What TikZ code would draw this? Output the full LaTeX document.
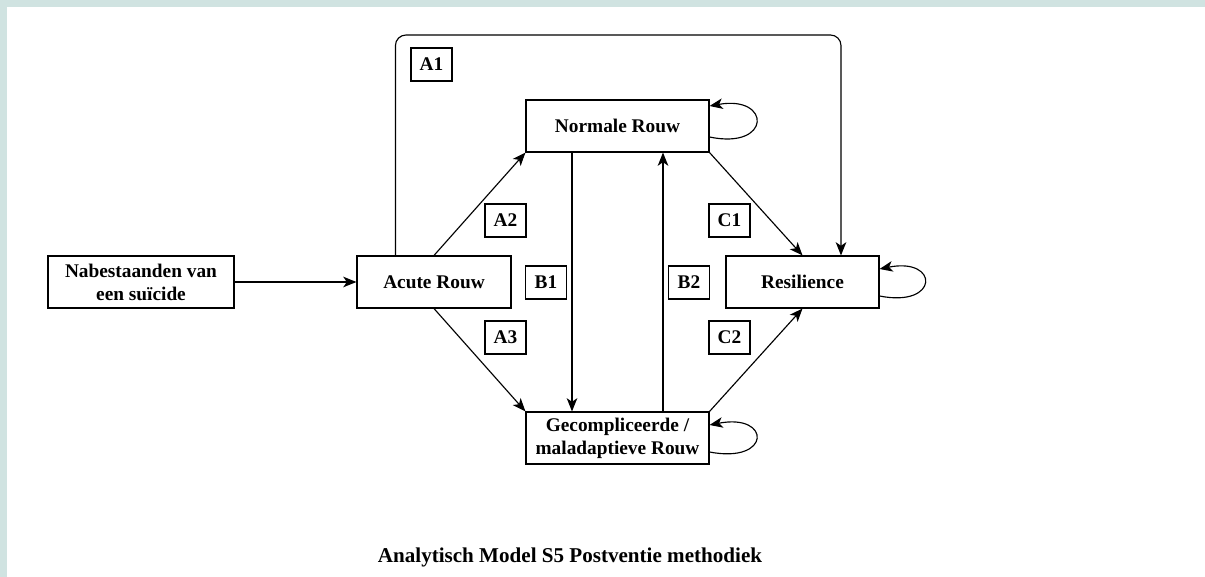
\documentclass[tikz,border=0pt]{standalone}
\usepackage{fontspec}
\setmainfont{Liberation Serif}
\usepackage{xcolor}
\usetikzlibrary{arrows.meta}
\definecolor{rand}{RGB}{208,227,225}

\begin{document}
\begin{tikzpicture}[x=0.02cm, y=-0.02cm,
    blok/.style={draw, line width=0.65pt, minimum height=1.04cm, inner sep=0pt,
      align=center, font=\fontsize{11}{13}\selectfont\bfseries},
    tag/.style={draw, line width=0.65pt, minimum width=0.82cm, minimum height=0.66cm,
      inner sep=0pt, font=\fontsize{11}{13}\selectfont\bfseries},
    pijl/.style={line width=0.65pt, -{Stealth[length=7.5pt, width=6pt, inset=2pt]}}]
  % achtergrond
  \fill[rand] (0,0) rectangle (1205,577);
  \fill[white] (7,7) rectangle (1205,577);
  % blokken
  \node[blok, minimum width=3.72cm] (nab) at (141,282) {Nabestaanden van\\een suïcide};
  \node[blok, minimum width=3.08cm] (acute) at (434,282) {Acute Rouw};
  \node[blok, minimum width=3.66cm] (normaal) at (617.5,126) {Normale Rouw};
  \node[blok, minimum width=3.66cm] (gecompl) at (617.5,438) {Gecompliceerde /\\maladaptieve Rouw};
  \node[blok, minimum width=3.06cm] (resil) at (802.5,282) {Resilience};
  % codes
  \node[tag] (a1) at (431.5,64.5) {A1};
  \node[tag] (a2) at (505.5,220.5) {A2};
  \node[tag] (a3) at (505.5,337.5) {A3};
  \node[tag] (b1) at (546,282.5) {B1};
  \node[tag] (b2) at (689,282.5) {B2};
  \node[tag] (c1) at (729.5,220.5) {C1};
  \node[tag] (c2) at (729.5,337.5) {C2};
  % pijlen
  \draw[pijl] (nab) -- (acute);
  \draw[pijl] (acute.north) -- (normaal.south west);
  \draw[pijl] (acute.south) -- (gecompl.north west);
  \draw[pijl] (normaal.south east) -- (resil.north);
  \draw[pijl] (gecompl.north east) -- (resil.south);
  \coordinate (b1x) at (572,0);
  \coordinate (b2x) at (663,0);
  \draw[pijl] (normaal.south -| b1x) -- (gecompl.north -| b1x);
  \draw[pijl] (gecompl.north -| b2x) -- (normaal.south -| b2x);
  % lus A1 over alles heen
  \coordinate (hoek) at (841,35);
  \draw[pijl, rounded corners=6] ([xshift=0.78cm]acute.north west) |- (hoek) -- (hoek |- resil.north);
  % zelflussen
  \draw[pijl] ([yshift=-0.22cm]normaal.east) .. controls +(62,13) and +(62,-11) .. ([yshift=0.4cm]normaal.east);
  \draw[pijl] ([yshift=-0.28cm]gecompl.east) .. controls +(62,12) and +(62,-12) .. ([yshift=0.26cm]gecompl.east);
  \draw[pijl] ([yshift=-0.28cm]resil.east) .. controls +(60,12) and +(60,-12) .. ([yshift=0.26cm]resil.east);
  % titel
  \node[font=\fontsize{12}{14}\selectfont\bfseries] (titel) at (570,557) {Analytisch Model S5 Postventie methodiek};
\end{tikzpicture}
\end{document}
